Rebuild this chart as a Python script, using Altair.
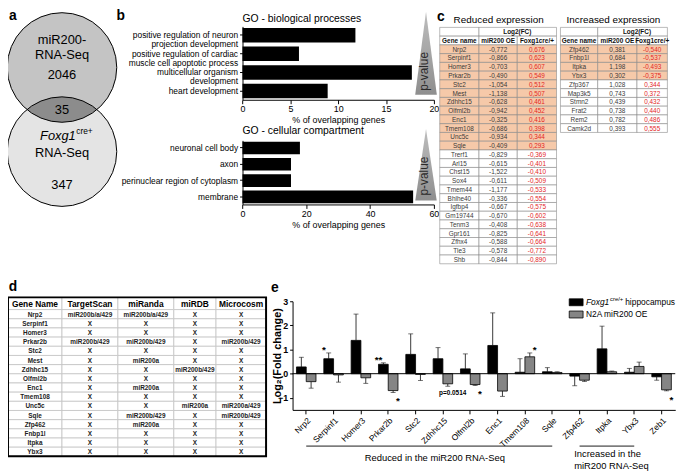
import math
import altair as alt
import pandas as pd

# ------------------------------------------------------------------ data
venn_sets = ["miR200-RNA-Seq", "Foxg1cre+ RNA-Seq"]
venn_counts = [2046, 35, 347]          # miR200 only, overlap, Foxg1 only

bp_terms = ["positive regulation of neuron|projection development",
            "positive regulation of cardiac|muscle cell apoptotic process",
            "multicellular organism|development",
            "heart development"]
bp_pct = [11.8, 5.9, 17.7, 8.9]
cc_terms = ["neuronal cell body", "axon", "perinuclear region of cytoplasm", "membrane"]
cc_pct = [18.0, 15.2, 15.2, 53.5]

red_genes = ["Nrp2", "Serpinf1", "Homer3", "Prkar2b", "Stc2", "Mest", "Zdhhc15", "Olfml2b",
             "Enc1", "Tmem108", "Unc5c", "Sqle", "Trerf1", "Arl15", "Chst15", "Sox4", "Tmem44",
             "Bhlhe40", "Igfbp4", "Gm19744", "Tenm3", "Gpr161", "Zfhx4", "Tle3", "Shb"]
red_mir200 = [-0.772, -0.866, -0.703, -0.490, -1.054, -1.138, -0.628, -0.942, -0.325, -0.686,
              -0.934, -0.409, -0.829, -0.615, -1.522, -0.611, -1.177, -0.336, -0.667, -0.670,
              -0.408, -0.825, -0.588, -0.578, -0.844]
red_foxg1 = [0.676, 0.623, 0.607, 0.549, 0.512, 0.507, 0.461, 0.452, 0.416, 0.398, 0.344, 0.293,
             -0.369, -0.401, -0.410, -0.509, -0.533, -0.554, -0.575, -0.602, -0.638, -0.641,
             -0.664, -0.772, -0.890]
red_n_opposite = 12
inc_genes = ["Zfp462", "Fnbp1l", "Itpka", "Ybx3", "Zfp367", "Map3k5", "Stmn2", "Frat2", "Rem2", "Camk2d"]
inc_mir200 = [0.381, 0.684, 1.198, 0.302, 1.028, 0.743, 0.439, 0.738, 0.782, 0.393]
inc_foxg1 = [-0.540, -0.537, -0.493, -0.375, 0.344, 0.372, 0.432, 0.440, 0.486, 0.555]
inc_n_opposite = 4
expr_header = ["Gene name", "miR200 OE", "Foxg1cre/+"]

pred_genes = ["Nrp2", "Serpinf1", "Homer3", "Prkar2b", "Stc2", "Mest", "Zdhhc15", "Olfml2b",
              "Enc1", "Tmem108", "Unc5c", "Sqle", "Zfp462", "Fnbp1l", "Itpka", "Ybx3"]
pred_header = ["Gene Name", "TargetScan", "miRanda", "miRDB", "Microcosm"]
targetscan = ["miR200b/a/429", "X", "X", "miR200b/429", "X", "X", "X", "X", "X", "X", "X", "X",
              "X", "X", "X", "X"]
miranda = ["miR200b/a/429", "X", "X", "miR200b/429", "X", "miR200a", "X", "X", "miR200a", "X",
           "X", "miR200b/429", "miR200a", "X", "X", "X"]
mirdb = ["X", "X", "X", "X", "X", "X", "miR200b/429", "X", "X", "X", "miR200a", "X", "X", "X",
         "X", "X"]
microcosm = ["X", "X", "X", "miR200b/429", "X", "X", "X", "X", "X", "X", "miR200a/429",
             "miR200b/429", "X", "X", "X", "X"]

qpcr_genes = ["Nrp2", "Serpinf1", "Homer3", "Prkar2b", "Stc2", "Zdhhc15", "Olfml2b", "Enc1",
              "Tmem108", "Sqle", "Zfp462", "Itpka", "Ybx3", "Zeb1"]
series = ["Foxg1cre/+ hippocampus", "N2A miR200 OE"]
foxg1_mean = [0.28, 0.62, 1.38, 0.39, 0.80, 0.62, 0.20, 1.17, 0.06, 0.08, -0.10, 1.03, 0.06, -0.13]
foxg1_sem = [0.40, 0.24, 1.09, 0.06, 0.85, 0.46, 0.62, 1.35, 0.56, 0.17, 0.40, 0.94, 0.16, 0.14]
n2a_mean = [-0.33, -0.05, -0.17, -0.70, -0.03, -0.42, -0.45, -0.72, 0.70, 0.05, -0.27, 0.08, 0.30, -0.67]
n2a_sem = [0.27, 0.30, 0.23, 0.08, 0.25, 0.10, 0.04, 0.22, 0.16, 0.03, 0.05, 0.03, 0.18, 0.04]
sig_above = [("Serpinf1", 0, "*"), ("Prkar2b", 0, "**"), ("Tmem108", 1, "*")]
sig_below = [("Prkar2b", 1, "*"), ("Olfml2b", 1, "*"), ("Zeb1", 1, "*")]
sig_pvalue = [("Zdhhc15", 1, "p=0.0514")]
groups = ["Reduced in the miR200 RNA-Seq", "Increased in the miR200 RNA-Seq"]
group_first = ["Nrp2", "Zfp462"]
group_last = ["Sqle", "Ybx3"]

# ------------------------------------------------------------------ layout helpers
W, H = 676, 464
FONT = "Liberation Sans"


def X(v):
    return round((v - 3) * 0.993, 2)


def Y(v):
    return round((v - 2) * 0.99, 2)


layers = []


def label(text, x, y, size=10, weight="normal", style="normal", align="center",
          baseline="middle", angle=0, color="black"):
    ch = alt.Chart(pd.DataFrame({"t": [text]})).mark_text(
        font=FONT, fontSize=size, fontWeight=weight, fontStyle=style, align=align,
        baseline=baseline, angle=angle, color=color
    ).encode(x=alt.value(X(x)), y=alt.value(Y(y)), text="t:N")
    layers.append(ch)


AX = dict(domainColor="black", tickColor="black", labelColor="black", titleColor="black",
          labelFont=FONT, titleFont=FONT, grid=False, domainWidth=1, tickWidth=1)

# ------------------------------------------------------------------ panel a : Venn
label("a", 8, 7, 14, "bold")
S = 0.99
R = 56 * S
c_up, c_lo = 60, 146
venn_df = pd.DataFrame({"set": venn_sets})
venn_y = alt.Scale(type="point", domain=venn_sets, range=[Y(c_up), Y(c_lo)], padding=0)
venn_fill = alt.Scale(domain=venn_sets, range=["#c4c4c4", "#e4e4e4"])
layers.append(alt.Chart(venn_df).mark_point(shape="circle", filled=True, opacity=1,
                                            size=(2 * R) ** 2, strokeWidth=0).encode(
    x=alt.value(X(58)), y=alt.Y("set:N", scale=venn_y, axis=None),
    fill=alt.Fill("set:N", scale=venn_fill, legend=None)))
half = (c_lo - c_up) / 2 * S
hc = math.sqrt(R ** 2 - half ** 2)
a_r = R / hc
lens_path = f"M-1,0A{a_r:.4f},{a_r:.4f} 0 0 1 1,0A{a_r:.4f},{a_r:.4f} 0 0 1 -1,0Z"
layers.append(alt.Chart(pd.DataFrame({"n": [venn_counts[1]]})).mark_point(
    shape=lens_path, filled=True, opacity=1, fill="#8c8c8c", strokeWidth=0, size=(2 * hc) ** 2
).encode(x=alt.value(X(58)), y=alt.value(Y((c_up + c_lo) / 2))))
layers.append(alt.Chart(venn_df).mark_point(shape="circle", filled=False, opacity=1,
                                            size=(2 * R) ** 2, stroke="black", strokeWidth=1).encode(
    x=alt.value(X(58)), y=alt.Y("set:N", scale=venn_y, axis=None)))
label("miR200-", 58, 32, 13)
label("RNA-Seq", 58, 47, 13)
label(str(venn_counts[0]), 58, 68, 13)
label(str(venn_counts[1]), 58, 103, 13)
label("Foxg1", 72, 130, 13, style="italic", align="right")
label("cre+", 72.5, 125, 8.5, align="left")
label("RNA-Seq", 58, 147, 13)
label(str(venn_counts[2]), 58, 180, 13)

# ------------------------------------------------------------------ panel b : GO bars
label("b", 118, 7, 14, "bold")


def go_chart(terms, pct, top, bottom, maxv, ticks, title, title_y):
    label(title, 242, title_y, 10.5, align="left")
    df = pd.DataFrame({"term": terms, "pct": pct})
    layers.append(alt.Chart(df).mark_bar(color="black").encode(
        x=alt.X("pct:Q", scale=alt.Scale(domain=[0, maxv], range=[X(242), X(437)], nice=False, zero=False),
                axis=alt.Axis(orient="bottom", offset=Y(bottom) - H, values=ticks,
                              title="% of overlapping genes", labelFontSize=9, titleFontSize=9,
                              titleFontWeight="normal", tickSize=4, labelPadding=1, titlePadding=2,
                              labelFlush=False, **AX)),
        y=alt.Y("term:N", sort=terms,
                scale=alt.Scale(domain=terms, range=[Y(top), Y(bottom)], paddingInner=0.22, paddingOuter=0.08),
                axis=alt.Axis(orient="left", offset=-X(242), title=None, labelFontSize=8.5,
                              labelExpr="split(datum.label, '|')", labelLineHeight=9,
                              labelOverlap=False, labelLimit=300, tickSize=3, labelPadding=2, **AX))))


go_chart(bp_terms, bp_pct, 18, 93, 20, [0, 5, 10, 15, 20], "GO - biological processes", 10)
go_chart(cc_terms, cc_pct, 134.5, 200, 60, [0, 20, 40, 60], "GO - cellular compartment", 125)

grad = alt.LinearGradient(gradient="linear",
                          stops=[alt.GradientStop(color="#bdbdbd", offset=0),
                                 alt.GradientStop(color="#8e8e8e", offset=1)],
                          x1=0, x2=0, y1=0, y2=1)
for top, bot, ratio, ty in [(3, 88, 0.26, 64), (123, 196, 0.30, 171)]:
    hh = (bot - top) / 2 * S
    layers.append(alt.Chart(pd.DataFrame({"t": ["p-value"]})).mark_point(
        shape=f"M0,-1L{ratio},1L{-ratio},1Z", filled=True, opacity=1, fill=grad, strokeWidth=0,
        size=(2 * hh) ** 2
    ).encode(x=alt.value(X(429)), y=alt.value(Y((top + bot) / 2))))
    label("p-value", 427, ty, 12, angle=270, color="#2a2a2a")

# ------------------------------------------------------------------ panel c : tables
label("c", 444, 8, 14, "bold")
ROWC = 8.95


def fmt(v):
    return f"{v:.3f}".replace(".", ",")


def expr_table(genes, mir, fox, n_opp, bounds, title, title_x):
    n_rows = len(genes) + 2
    cells = [dict(c0=0, c1=1, r0=0, r1=1, t="", kind="head", tone="head"),
             dict(c0=1, c1=3, r0=0, r1=1, t="Log2(FC)", kind="head", tone="head")]
    for j, h in enumerate(expr_header):
        cells.append(dict(c0=j, c1=j + 1, r0=1, r1=2, t=h, kind="head", tone="head"))
    for i, (g, m, f) in enumerate(zip(genes, mir, fox)):
        kind = "opposite" if i < n_opp else "same"
        for j, (t, tone) in enumerate([(g, "text"), (fmt(m), "text"), (fmt(f), "red")]):
            cells.append(dict(c0=j, c1=j + 1, r0=i + 2, r1=i + 3, t=t, kind=kind, tone=tone))
    df = pd.DataFrame(cells)
    xs = alt.Scale(domain=[0, 1, 2, 3], range=[X(b) for b in bounds], nice=False, zero=False)
    ys = alt.Scale(domain=[0, n_rows], range=[Y(19), Y(19 + n_rows * ROWC)], nice=False, zero=False)
    base = alt.Chart(df)
    layers.append(base.mark_rect(stroke="#8a8a8a", strokeWidth=0.6).encode(
        x=alt.X("c0:Q", scale=xs, axis=None), x2="c1:Q",
        y=alt.Y("r0:Q", scale=ys, axis=None), y2="r1:Q",
        fill=alt.Fill("kind:N", scale=alt.Scale(domain=["head", "opposite", "same"],
                                                range=["white", "#f6c9a9", "white"]), legend=None)))
    txt = base.transform_calculate(cx="(datum.c0 + datum.c1) / 2", cy="(datum.r0 + datum.r1) / 2")
    layers.append(txt.transform_filter("datum.tone != 'head'").mark_text(font=FONT, fontSize=6.5, dy=0.5).encode(
        x=alt.X("cx:Q", scale=xs, axis=None), y=alt.Y("cy:Q", scale=ys, axis=None), text="t:N",
        color=alt.Color("tone:N", scale=alt.Scale(domain=["text", "red"], range=["#3a3a3a", "#e3261f"]),
                        legend=None)))
    layers.append(txt.transform_filter("datum.tone == 'head'").mark_text(
        font=FONT, fontSize=6.5, fontWeight="bold", color="#111", dy=0.5).encode(
        x=alt.X("cx:Q", scale=xs, axis=None), y=alt.Y("cy:Q", scale=ys, axis=None), text="t:N"))
    label(title, title_x, 12, 10)


expr_table(red_genes, red_mir200, red_foxg1, red_n_opposite, [443, 483, 522, 562], "Reduced expression", 503)
expr_table(inc_genes, inc_mir200, inc_foxg1, inc_n_opposite, [566, 604, 644, 675], "Increased expression", 620)

# ------------------------------------------------------------------ panel d : prediction table
label("d", 8, 284, 14, "bold")
pcells = []
for j, h in enumerate(pred_header):
    pcells.append(dict(c0=j, c1=j + 1, r0=0, r1=1, t=h, kind="head"))
for i, g in enumerate(pred_genes):
    for j, t in enumerate([g, targetscan[i], miranda[i], mirdb[i], microcosm[i]]):
        pcells.append(dict(c0=j, c1=j + 1, r0=i + 1, r1=i + 2, t=t, kind="body"))
pdf = pd.DataFrame(pcells)
n_pr = len(pred_genes) + 1
n_pc = len(pred_header)
dxs = alt.Scale(domain=list(range(n_pc + 1)), range=[X(b) for b in [3, 58, 115, 172, 215, 266]],
                nice=False, zero=False)
dys = alt.Scale(domain=[0, 1, n_pr], range=[Y(295), Y(307.5), Y(457.5)], nice=False, zero=False)
pbase = alt.Chart(pdf)
layers.append(pbase.mark_rect(fill="white", stroke="#c4c4c4", strokeWidth=0.8).encode(
    x=alt.X("c0:Q", scale=dxs, axis=None), x2="c1:Q",
    y=alt.Y("r0:Q", scale=dys, axis=None), y2="r1:Q"))
ptxt = pbase.transform_calculate(cx="(datum.c0 + datum.c1) / 2", cy="(datum.r0 + datum.r1) / 2")
layers.append(ptxt.transform_filter("datum.kind == 'head'").mark_text(
    font=FONT, fontSize=8.5, fontWeight="bold", color="black", dy=0.5).encode(
    x=alt.X("cx:Q", scale=dxs, axis=None), y=alt.Y("cy:Q", scale=dys, axis=None), text="t:N"))
layers.append(ptxt.transform_filter("datum.kind == 'body'").mark_text(
    font=FONT, fontSize=6.5, fontWeight="bold", color="#222", dy=0.5).encode(
    x=alt.X("cx:Q", scale=dxs, axis=None), y=alt.Y("cy:Q", scale=dys, axis=None), text="t:N"))
layers.append(alt.Chart(pd.DataFrame({"c0": [0], "c1": [n_pc], "r0": [0], "r1": [n_pr]})).mark_rect(
    fill="transparent", stroke="black", strokeWidth=2).encode(
    x=alt.X("c0:Q", scale=dxs, axis=None), x2="c1:Q",
    y=alt.Y("r0:Q", scale=dys, axis=None), y2="r1:Q"))

# ------------------------------------------------------------------ panel e : qPCR bars
label("e", 275, 285, 14, "bold")
rows = []
for i, g in enumerate(qpcr_genes):
    for s, m, e in [(series[0], foxg1_mean[i], foxg1_sem[i]), (series[1], n2a_mean[i], n2a_sem[i])]:
        rows.append(dict(gene=g, series=s, mean=m, end=(m + e if m >= 0 else m - e)))
qdf = pd.DataFrame(rows)


def ex_scale():
    return alt.Scale(domain=qpcr_genes, range=[X(293), X(683)], paddingInner=0.286, paddingOuter=0.143)


def eo_scale():
    return alt.Scale(domain=series, paddingInner=0, paddingOuter=0)


def ey_scale():
    return alt.Scale(domain=[-1.5, 3], range=[Y(410), Y(299)], nice=False, zero=False)


col_scale = alt.Scale(domain=series, range=["black", "#858585"])

layers.append(alt.Chart(qdf).mark_rule(color="#222", strokeWidth=0.9).encode(
    x=alt.X("gene:N", sort=qpcr_genes, scale=ex_scale(), axis=None),
    xOffset=alt.XOffset("series:N", sort=series, scale=eo_scale()),
    y=alt.Y("mean:Q", scale=ey_scale(), axis=None), y2="end:Q"))
layers.append(alt.Chart(qdf).mark_tick(color="#222", thickness=0.9, size=5).encode(
    x=alt.X("gene:N", sort=qpcr_genes, scale=ex_scale(), axis=None),
    xOffset=alt.XOffset("series:N", sort=series, scale=eo_scale()),
    y=alt.Y("end:Q", scale=ey_scale(), axis=None)))
layers.append(alt.Chart(qdf).mark_bar(stroke="black", strokeWidth=0.8).encode(
    x=alt.X("gene:N", sort=qpcr_genes, scale=ex_scale(),
            axis=alt.Axis(orient="bottom", offset=Y(410) - H, title=None, labelAngle=315,
                          labelAlign="right", labelBaseline="top", labelFontSize=8.5, tickSize=4,
                          labelPadding=2, labelOverlap=False, **AX)),
    xOffset=alt.XOffset("series:N", sort=series, scale=eo_scale()),
    y=alt.Y("mean:Q", scale=ey_scale(),
            axis=alt.Axis(orient="left", offset=-X(293), values=[-1, 0, 1, 2, 3],
                          title="Log\u2082(Fold change)", titleFontSize=11, titleFontWeight="bold",
                          titleX=round(X(278) - X(293), 2), titleY=Y(354.5), titleAngle=270,
                          titleAlign="center", titleBaseline="middle",
                          labelFontSize=9, labelFontWeight="bold", tickSize=3, labelPadding=2, **AX)),
    y2=alt.datum(0),
    fill=alt.Fill("series:N", scale=col_scale, legend=None)))
layers.append(alt.Chart(pd.DataFrame({"z": [0]})).mark_rule(color="black", strokeWidth=1).encode(
    x=alt.value(X(293)), x2=alt.value(X(683)),
    y=alt.YDatum(0, scale=ey_scale(), axis=None)))


def sig_df(items):
    out = []
    for g, si, lab in items:
        i = qpcr_genes.index(g)
        m = [foxg1_mean, n2a_mean][si][i]
        e = [foxg1_sem, n2a_sem][si][i]
        out.append(dict(gene=g, series=series[si], end=(m + e if m >= 0 else m - e), lab=lab))
    return pd.DataFrame(out)


for items, base_, dy, fs in [(sig_above, "alphabetic", 0, 10), (sig_below, "top", 4, 10),
                             (sig_pvalue, "top", 4, 6.5)]:
    layers.append(alt.Chart(sig_df(items)).mark_text(font=FONT, fontSize=fs, fontWeight="bold",
                                                     baseline=base_, dy=dy, color="black").encode(
        x=alt.X("gene:N", sort=qpcr_genes, scale=ex_scale(), axis=None),
        xOffset=alt.XOffset("series:N", sort=series, scale=eo_scale()),
        y=alt.Y("end:Q", scale=ey_scale(), axis=None), text="lab:N"))

# legend
leg_df = pd.DataFrame({"series": series})
leg_y = alt.Scale(type="point", domain=series, range=[Y(300), Y(312.5)], padding=0)
layers.append(alt.Chart(leg_df).mark_point(shape="M-1,-0.5L1,-0.5L1,0.5L-1,0.5Z", filled=True, opacity=1,
                                           size=196, stroke="black", strokeWidth=0.8).encode(
    x=alt.value(X(582)), y=alt.Y("series:N", scale=leg_y, axis=None),
    fill=alt.Fill("series:N", scale=col_scale, legend=None)))
label("Foxg1", 592, 300, 8.5, style="italic", align="left")
label("cre/+", 616.5, 297, 6, align="left")
label("hippocampus", 632, 300, 8.5, align="left")
label(series[1], 592, 312.5, 8.5, align="left")

# group annotations
gdf = pd.DataFrame({"group": groups, "first": group_first, "last": group_last})
layers.append(alt.Chart(gdf).mark_rule(color="black", strokeWidth=0.9).encode(
    x=alt.X("first:N", scale=ex_scale(), axis=None), x2="last:N", y=alt.value(Y(447))))
label(groups[0], 438, 459, 9.5)
label("Increased in the", 580, 455, 9.5, align="left")
label("miR200 RNA-Seq", 580, 467, 9.5, align="left")

chart = alt.layer(*layers).resolve_scale(
    x="independent", y="independent", fill="independent", color="independent",
    xOffset="independent"
).resolve_axis(x="independent", y="independent").properties(
    width=W, height=H, padding=0, autosize=alt.AutoSizeParams(type="none")
).configure_view(strokeWidth=0)

chart.save("out.html", embed_options={"renderer": "svg", "actions": False})
